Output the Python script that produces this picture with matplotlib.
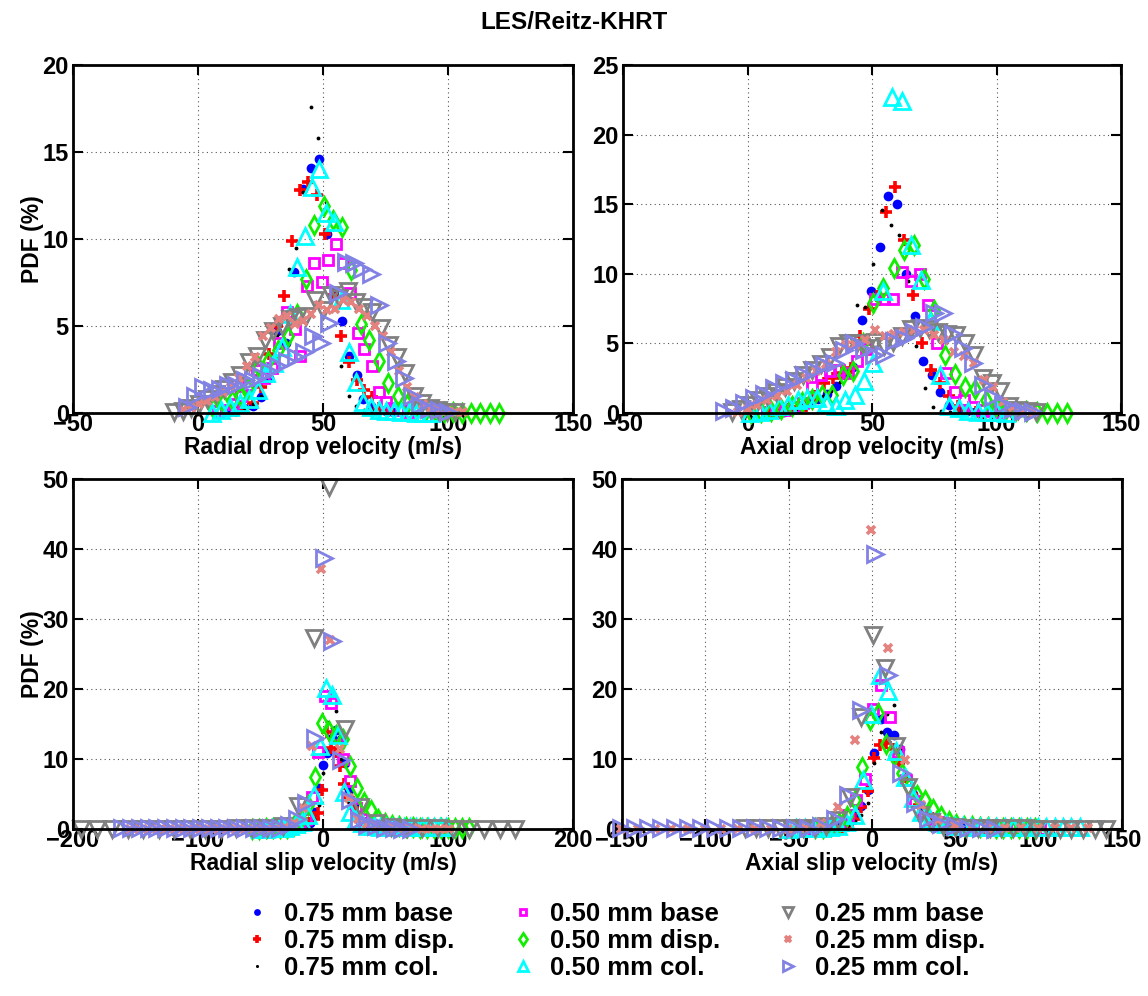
import numpy as np
import matplotlib
matplotlib.use("Agg")
import matplotlib.pyplot as plt

plt.rcParams['font.family'] = ['Liberation Sans', 'DejaVu Sans']
plt.rcParams['font.weight'] = 'bold'

# ---------------- data ----------------
# panel 1: radial drop velocity
p1_b75_x = [12, 15, 18.5, 22, 25, 28.5, 31.5, 35, 38.5, 42, 45.2, 48.4, 51.5, 54.5, 57.5, 60.5, 63.5, 66, 69, 72, 75, 78]
p1_b75_y = [0.1, 0.2, 0.3, 0.4, 0.9, 2.0, 4.7, 4.0, 8.1, 12.9, 14.1, 14.6, 10.3, 7.0, 5.3, 3.3, 2.2, 0.8, 0.4, 0.2, 0.1, 0.05]
p1_d75_x = [15, 18.5, 22, 25, 28.4, 31.5, 34.5, 37.7, 40.8, 43.9, 47.5, 50.8, 54, 57.2, 60.3, 63.5, 66.5, 69.5, 72.5, 76]
p1_d75_y = [0.1, 0.3, 0.6, 1.5, 3.4, 5.0, 6.7, 9.9, 12.8, 13.3, 12.5, 10.3, 6.8, 4.4, 2.95, 1.9, 1.3, 0.9, 0.3, 0.1]
p1_c75_x = [15, 18.5, 22, 25, 28.4, 31.5, 36.3, 39.1, 42, 45.1, 48.1, 51.1, 54.4, 57.2, 60.3, 63.2, 66.5, 69.5]
p1_c75_y = [0.1, 0.3, 0.5, 1.0, 2.5, 4.5, 8.3, 9.5, 12.7, 17.6, 15.8, 12.1, 7.2, 2.7, 1.0, 0.4, 0.2, 0.1]
p1_b50_x = [8, 11, 14, 17, 20, 23.5, 26.5, 29.5, 32.5, 35.5, 38.8, 40.8, 43.5, 46.5, 49.7, 52, 55.2, 57.9, 60.8, 63.9, 66.5, 69.5, 72.4, 75.2, 78, 81, 84]
p1_b50_y = [0.1, 0.2, 0.5, 1.0, 1.6, 2.5, 2.0, 2.6, 4.0, 5.8, 4.8, 3.3, 7.3, 8.6, 7.5, 8.8, 9.7, 8.6, 6.9, 4.6, 3.7, 2.7, 1.2, 0.65, 0.3, 0.15, 0.05]
p1_d50_x = [6.1, 9.9, 13.5, 16.8, 20.1, 24, 28, 31.9, 35.9, 39.5, 43.1, 46.5, 50.5, 54, 57.7, 61.2, 65.2, 68.5, 72.4, 76.1,
            80.1, 83.7, 87.4, 91, 94.6, 98.2, 101.8, 105.4, 109, 112.9, 116.8, 120.5]
p1_d50_y = [0.3, 0.55, 0.75, 1.0, 1.4, 2.7, 3.0, 3.6, 4.4, 5.7, 7.7, 10.8, 11.9, 11.1, 10.7, 8.2, 5.1, 4.2, 3.0, 1.7,
            1.0, 0.5, 0.3, 0.2, 0.1, 0.05, 0.05, 0.02, 0.02, 0.02, 0.02, 0.02]
p1_c50_x = [5.5, 9.2, 12.9, 16.6, 20.3, 24, 27.2, 30.4, 33.5, 36.6, 39.7, 42.8, 45.5, 48.4, 51.1, 54.2, 57.2, 60.2, 63.2, 66.1,
            69.2, 72.2, 75.2, 78.2, 81.2, 84.2, 87.2, 90.2, 93.2]
p1_c50_y = [0.0, 0.15, 0.35, 0.55, 0.8, 1.3, 2.3, 2.9, 3.8, 5.7, 8.4, 10.2, 13.0, 14.0, 11.5, 11.0, 6.5, 3.5, 1.8, 0.65,
            0.35, 0.2, 0.1, 0.1, 0.05, 0.05, 0.02, 0.02, 0.01]
p1_b25_x = [-9.5, -6.2, -2.9, 0.4, 3.7, 7, 10.3, 13.6, 16.9, 20.2, 23.5, 26.8, 30.1, 33.4, 36.7, 40, 43.3, 46.6, 49.9, 53.2,
            56.5, 59.8, 63.1, 66.4, 69.7, 73, 76.3, 79.6, 82.9, 86.2, 89.5, 92.8, 96.1, 99.4, 102.7]
p1_b25_y = [0.05, 0.1, 0.3, 0.5, 0.8, 1.1, 1.4, 1.8, 2.2, 2.95, 3.3, 4.2, 4.7, 5.0, 5.4, 5.5, 5.6, 6.5, 5.9, 6.8,
            6.6, 7.0, 6.4, 6.1, 5.8, 4.9, 3.9, 3.2, 2.3, 1.0, 0.55, 0.27, 0.17, 0.08, 0.03]
p1_d25_x = [-6, -2.8, 0.4, 3.6, 6.8, 10, 13.2, 16.4, 19.6, 22.8, 26, 29.2, 32.4, 35.6, 38.8, 42, 45.2, 48.4, 51.6, 54.8,
            58, 61.2, 64.4, 67.6, 70.8, 74, 77.2, 80.4, 83.6, 86.8, 90, 93.2, 96.4, 99.6, 102.8, 106]
p1_d25_y = [0.2, 0.3, 0.5, 0.7, 0.9, 1.2, 1.5, 2.0, 2.7, 3.2, 4.4, 4.9, 5.4, 5.6, 5.1, 5.3, 5.7, 6.2, 5.9, 6.0,
            6.5, 6.4, 6.0, 5.6, 5.0, 4.4, 3.5, 2.4, 1.5, 0.9, 0.5, 0.3, 0.2, 0.1, 0.05, 0.03]
p1_c25_x = [-4.5, -1.2, 2.1, 5.4, 8.7, 12, 15.3, 18.6, 21.9, 25.2, 28.5, 31.8, 35.5, 39, 42.5, 46, 49.3, 52.5, 55.8, 59,
            62.3, 65.6, 69, 72.4, 75.7, 79, 82.3, 85.6, 88.9, 92.5, 96.2, 99.8]
p1_c25_y = [0.35, 0.95, 1.5, 1.3, 1.4, 1.6, 1.6, 1.9, 1.9, 2.1, 2.4, 2.7, 3.0, 3.2, 3.5, 4.4, 4.0, 5.2, 6.9, 8.7,
            8.6, 8.3, 8.0, 6.2, 4.0, 3.0, 2.0, 0.95, 0.45, 0.25, 0.15, 0.08]

# panel 2: axial drop velocity
p2_b75_x = [11, 14.5, 18, 21.5, 25, 28.5, 32, 35.5, 39, 42.5, 46, 49.6, 53.1, 56.5, 60.1, 63.6, 67.1, 70.5, 74, 77.5, 81, 84.5, 88, 91.5]
p2_b75_y = [0.05, 0.1, 0.2, 0.4, 0.7, 1.0, 1.4, 1.96, 2.7, 3.3, 6.7, 8.8, 11.9, 15.6, 15.0, 10.0, 7.0, 3.7, 2.7, 1.5, 0.6, 0.3, 0.15, 0.05]
p2_d75_x = [9, 12.6, 16.2, 19.8, 23.4, 27, 30.6, 34.2, 37.8, 41.4, 45, 48.6, 52.2, 55.8, 59.4, 63, 66.5, 70.2, 73.8, 77.4, 81, 84.6, 88.2, 91.8]
p2_d75_y = [0.05, 0.15, 0.3, 0.4, 0.5, 1.2, 2.15, 2.5, 2.9, 3.2, 5.5, 7.5, 8.4, 14.45, 16.2, 12.4, 8.47, 5.0, 3.1, 2.13, 1.2, 0.5, 0.2, 0.05]
p2_c75_x = [16.6, 20, 23.4, 26.8, 30.2, 33.6, 37, 40.4, 43.8, 47.2, 50.6, 54, 57.5, 60.9, 64.3, 67.7, 71.1, 74.5, 77.9, 81.3]
p2_c75_y = [0.1, 0.2, 0.35, 0.7, 1.2, 1.6, 2.2, 3.0, 7.76, 7.6, 10.7, 14.6, 13.5, 12.8, 9.5, 4.8, 1.8, 0.45, 0.15, 0.05]
p2_b50_x = [7.9, 11.5, 15.1, 18.7, 22.3, 25.9, 29.5, 33.1, 36.7, 40.3, 43.9, 47.5, 51.1, 54.8, 58.5, 62.2, 65.6, 69.1, 72.6, 76.2,
            79.8, 83.4, 87, 90.6, 94.2, 97.8, 101.4]
p2_b50_y = [0.05, 0.1, 0.2, 0.4, 0.7, 1.9, 2.75, 3.0, 3.1, 2.9, 3.7, 4.6, 8.2, 8.2, 8.2, 10.1, 9.5, 10.0, 7.75, 5.0,
            2.85, 1.5, 0.93, 0.4, 0.25, 0.12, 0.05]
p2_d50_x = [1.3, 5.4, 9.5, 13.6, 17.7, 21.8, 25.9, 30, 34.1, 38.2, 42.3, 46.4, 50.5, 54.6, 58.7, 62.8, 66.9, 71, 75.1, 79.2,
            83.3, 87.4, 91.5, 95.6, 99.7, 103.8, 107.9, 112, 116.1, 120.2, 124.3, 128.4]
p2_d50_y = [0.0, 0.05, 0.15, 0.3, 0.5, 0.8, 1.0, 1.3, 1.3, 2.75, 3.0, 5.0, 7.9, 9.0, 10.4, 11.7, 12.1, 9.6, 7.4, 4.2,
            2.8, 1.85, 1.7, 0.95, 0.5, 0.3, 0.2, 0.15, 0.1, 0.03, 0.02, 0.02]
p2_c50_x = [1.2, 5, 8.8, 12.6, 16.4, 20.2, 24, 27.8, 31.6, 35.4, 39.2, 43, 46.8, 50.6, 54.4, 58.2, 62, 65.8, 69.6, 73.4,
            77.2, 81, 84.8, 88.6, 92.4, 96.2, 100, 103.8]
p2_c50_y = [0.0, 0.1, 0.24, 0.5, 0.6, 0.95, 1.07, 1.07, 0.7, 0.5, 0.95, 1.3, 2.3, 3.6, 8.8, 22.7, 22.4, 12.1, 9.55, 6.6,
            2.7, 0.5, 0.35, 0.15, 0.1, 0.08, 0.05, 0.03]
p2_b25_x = [-6.4, -2.8, 0.8, 4.4, 8, 11.6, 15.2, 18.8, 22.4, 26, 29.6, 33.2, 36.8, 40.4, 44, 47.6, 51.2, 54.8, 58.4, 62,
            65.6, 69.2, 72.8, 76.4, 80, 83.6, 87.2, 90.8, 94.4, 98, 101.6, 105.2, 108.8, 112.4, 116]
p2_b25_y = [0.1, 0.3, 0.6, 0.9, 1.2, 1.5, 1.9, 2.3, 2.7, 3.1, 3.5, 4.0, 4.8, 5.0, 5.0, 4.65, 5.1, 4.8, 5.1, 5.5,
            6.0, 6.1, 6.0, 5.8, 5.7, 5.6, 5.0, 4.2, 2.5, 2.15, 1.55, 0.48, 0.24, 0.12, 0.05]
p2_d25_x = [-3.9, 0, 3.9, 7.9, 11.8, 15.8, 19.7, 23.6, 27.6, 31.5, 35.5, 39.4, 43.3, 47.2, 51.1, 55.1, 59, 63, 66.9, 70.9,
            74.9, 78.9, 82.9, 86.8, 90.8, 94.8, 98.7, 102.7, 106.6, 110.6, 114.5]
p2_d25_y = [0.1, 0.3, 0.6, 0.9, 1.2, 1.6, 2.0, 2.5, 3.0, 3.5, 4.4, 4.9, 4.9, 5.25, 5.97, 5.5, 5.7, 5.85, 5.97, 5.97,
            5.6, 5.25, 4.4, 4.06, 3.6, 2.4, 1.9, 0.8, 0.4, 0.2, 0.1]
p2_c25_x = [-9.3, -5.3, -1.3, 2.7, 6.7, 10.7, 14.7, 18.7, 22.7, 26.7, 30.7, 34.7, 38.7, 42.7, 46.7, 50.7, 54.7, 58.7, 62.7, 66.7,
            70.7, 74.7, 78.7, 82.7, 86.7, 90.7, 94.7, 98.7, 102.7, 106.7, 110.7, 114.7]
p2_c25_y = [0.12, 0.36, 0.72, 1.07, 1.4, 1.8, 2.15, 2.4, 2.75, 3.1, 3.46, 3.6, 4.5, 5.0, 4.5, 4.2, 4.2, 5.2, 5.4, 5.8,
            6.2, 7.2, 7.2, 5.7, 4.66, 3.6, 2.0, 1.17, 0.6, 0.3, 0.15, 0.08]

# panel 3: radial slip velocity
p3_b75_x = [-35, -31.5, -28, -24.5, -21, -17.5, -14, -10.5, -7, -3.5, 0, 3.5, 7, 10.5, 14, 17.5, 21, 24.5, 28, 31.5,
            35, 38.5, 42, 45.5, 49]
p3_b75_y = [0.05, 0.1, 0.1, 0.15, 0.2, 0.3, 0.5, 0.9, 2.5, 5.8, 9.2, 10.9, 13.0, 14.2, 12.8, 9.5, 5.6, 3.5, 2.0, 1.2,
            0.7, 0.4, 0.3, 0.2, 0.1]
p3_d75_x = [-35.5, -32, -28.5, -25, -21.5, -18, -14.5, -11, -7.5, -4, -0.5, 3, 6.5, 10, 13.5, 17, 20.5, 24, 27.5, 31,
            34.5, 38, 41.5, 45, 48.5]
p3_d75_y = [0.05, 0.1, 0.1, 0.15, 0.2, 0.3, 0.5, 0.8, 1.5, 2.3, 5.6, 13.9, 11.6, 11.0, 9.0, 6.5, 4.5, 3.0, 2.0, 1.3,
            0.8, 0.5, 0.3, 0.2, 0.1]
p3_c75_x = [-35, -31.5, -28, -24.5, -21, -17.5, -14, -10.5, -7, -3.5, 0, 3.5, 7, 10.5, 14, 17.5, 21, 24.5, 28, 31.5,
            35, 38.5, 42, 45.5, 49]
p3_c75_y = [0.05, 0.1, 0.1, 0.15, 0.2, 0.3, 0.5, 0.9, 1.5, 3.5, 8.0, 15.3, 14.5, 16.9, 10.0, 6.5, 3.8, 2.3, 1.5, 1.0,
            0.6, 0.4, 0.3, 0.2, 0.1]
p3_b50_x = [-43.8, -38.8, -33.8, -28.8, -23.8, -18.8, -13.8, -8.8, -3.8, 1.2, 6.2, 11.2, 16.2, 21.2, 26.2, 31.2, 36.2, 41.2,
            46.2, 51.2, 56.2, 61.2, 66.2, 71.2, 76.2, 81.2]
p3_b50_y = [0.05, 0.1, 0.15, 0.2, 0.4, 0.8, 1.5, 4.6, 11.0, 19.0, 18.0, 13.5, 10.0, 6.8, 3.0, 1.5, 0.8, 0.5,
            0.3, 0.2, 0.15, 0.1, 0.1, 0.05, 0.05, 0.05]
p3_d50_x = [-57.1, -51.5, -45.9, -40.3, -34.7, -29.1, -23.5, -17.9, -12.3, -6.7, -1.1, 4.5, 10.1, 15.7, 21.3, 26.9,
            32.5, 38.1, 43.7, 49.3, 54.9, 60.5, 66.1, 71.7, 77.3, 82.9, 88.5, 94.1, 99.7, 105.3, 110.9, 116.5]
p3_d50_y = [0.05, 0.05, 0.1, 0.1, 0.15, 0.2, 0.6, 1.5, 3.5, 7.4, 15.2, 14.0, 13.5, 12.8, 9.0, 5.8,
            3.9, 2.7, 1.5, 0.9, 0.6, 0.4, 0.3, 0.25, 0.2, 0.2, 0.15, 0.15, 0.1, 0.1, 0.1, 0.1]
p3_c50_x = [-50.2, -45.4, -40.6, -35.8, -31, -26.2, -21.4, -16.6, -11.8, -7, -2.2, 2.6, 7.4, 12.2, 17, 21.8,
            26.6, 31.4, 36.2, 41, 45.8, 50.6, 55.4, 60.2, 65, 69.8, 74.6, 79.4, 84.2, 89, 93.8, 98.6]
p3_c50_y = [0.05, 0.05, 0.1, 0.1, 0.2, 0.4, 0.7, 1.0, 2.0, 4.9, 11.8, 20.1, 19.1, 13.4, 5.3, 2.5,
            1.5, 0.8, 0.5, 0.4, 0.3, 0.3, 0.3, 0.3, 0.3, 0.3, 0.3, 0.3, 0.3, 0.3, 0.3, 0.3]
p3_b25_x = [-193.4, -181, -168.6, -156.2, -143.8, -131.4, -119, -106.6, -94.2, -81.8, -69.4, -57, -44.6, -32.2, -19.8,
            -7.4, 5, 17.4, 29.8, 42.2, 54.6, 67, 79.4, 91.8, 104.2, 116.6, 129, 141.4, 153.8]
p3_b25_y = [0.05, 0.05, 0.05, 0.05, 0.05, 0.05, 0.05, 0.05, 0.05, 0.05, 0.1, 0.1, 0.2, 0.5, 3.3,
            27.3, 48.8, 14.3, 3.2, 0.8, 0.3, 0.2, 0.1, 0.1, 0.05, 0.05, 0.05, 0.05, 0.05]
p3_d25_x = [-154.7, -147.4, -140.1, -132.8, -125.5, -118.2, -110.9, -103.6, -96.3, -89, -81.7, -74.4, -67.1, -59.8,
            -52.5, -45.2, -37.9, -30.6, -23.3, -16, -8.7, -1.4, 5.9, 13.2, 20.5, 27.8, 35.1, 42.4, 49.7, 57, 64.3,
            71.6, 78.9, 86.2, 93.5, 100.8]
p3_d25_y = [0.05, 0.05, 0.05, 0.05, 0.05, 0.05, 0.05, 0.05, 0.05, 0.05, 0.05, 0.05, 0.05, 0.05,
            0.05, 0.05, 0.15, 0.3, 0.8, 3.0, 11.8, 37.1, 27.0, 11.4, 4.5, 1.5, 0.7, 0.4, 0.3, 0.2, 0.15,
            0.1, 0.05, 0.05, 0.05, 0.05]
p3_c25_x = [-160.5, -153.5, -146.5, -139.5, -132.5, -125.5, -118.5, -111.5, -104.5, -97.5, -90.5, -83.5, -76.5,
            -69.5, -62.5, -55.5, -48.5, -41.5, -34.5, -27.5, -20.5, -13.5, -6.5, 0.5, 7.5, 14.5, 21.5, 28.5, 35.5,
            42.5, 49.5, 56.5, 63.5, 70.5]
p3_c25_y = [0.1, 0.1, 0.1, 0.1, 0.1, 0.1, 0.1, 0.1, 0.1, 0.1, 0.1, 0.1, 0.1,
            0.1, 0.1, 0.1, 0.1, 0.1, 0.2, 0.6, 1.5, 3.7, 13.0, 38.7, 26.9, 9.9, 4.1, 1.3, 0.6,
            0.4, 0.2, 0.1, 0.05, 0.03]

# panel 4: axial slip velocity
p4_b75_x = [-25.8, -21.9, -18, -14.2, -10.3, -6.4, -2.5, 1.3, 5.1, 9, 12.9, 16.8, 20.7, 24.6, 28.5, 32.4, 36.3, 40.2,
            44.1, 48, 51.9, 55.8]
p4_b75_y = [0.1, 0.3, 0.6, 1.0, 1.8, 3.3, 5.6, 10.8, 15.7, 13.8, 13.4, 11.4, 7.5, 5.0, 3.5, 2.5, 1.7, 1.1,
            0.7, 0.5, 0.3, 0.2]
p4_d75_x = [-25.9, -22, -18.1, -14.2, -10.3, -6.4, -2.5, 1.3, 4.6, 8.5, 12.4, 16.3, 20.2, 24.1, 28, 31.9, 35.8, 39.7,
            43.6, 47.5, 51.4]
p4_d75_y = [0.05, 0.1, 0.3, 0.5, 1.5, 3.2, 5.5, 10.1, 12.0, 12.3, 11.5, 9.5, 7.5, 5.0, 3.5, 2.5, 1.6, 1.0,
            0.6, 0.4, 0.2]
p4_c75_x = [-25.8, -21.9, -18, -14.2, -10.3, -6.4, -2.5, 1.3, 5.1, 9, 12.9, 16.8, 20.7, 24.6, 28.5, 32.4, 36.3, 40.2, 44.1]
p4_c75_y = [0.05, 0.1, 0.3, 0.6, 1.2, 2.0, 3.7, 9.5, 13.8, 16.5, 17.7, 11.5, 8.0, 5.5, 3.8, 2.5, 1.5, 0.8, 0.4]
p4_b50_x = [-39.4, -34.4, -29.4, -24.4, -19.4, -14.4, -9.4, -4.4, 0.6, 5.6, 10.6, 15.6, 20.6, 25.6, 30.6, 35.6, 40.6,
            45.6, 50.6, 55.6, 60.6, 65.6, 70.6, 75.6, 80.6, 85.6, 90.6, 95.6, 100.6]
p4_b50_y = [0.05, 0.1, 0.2, 0.4, 0.8, 2.0, 4.2, 7.2, 17.2, 20.6, 16.0, 11.0, 7.0, 4.0, 2.5, 1.5, 1.0,
            0.6, 0.4, 0.3, 0.2, 0.2, 0.15, 0.1, 0.1, 0.1, 0.05, 0.05, 0.05]
p4_d50_x = [-34, -29.3, -24.6, -19.9, -15.2, -10.5, -5.8, -1.1, 3.6, 8.3, 13, 17.7, 22.4, 27.1, 31.8, 36.5, 41.2,
            45.9, 50.6, 55.3, 60, 64.7, 69.4, 74.1, 78.8, 83.5, 88.2, 92.9, 97.6]
p4_d50_y = [0.1, 0.2, 0.4, 0.9, 1.9, 4.2, 8.9, 15.6, 16.6, 12.1, 10.4, 8.0, 6.0, 4.8, 4.1, 2.8, 1.8,
            1.1, 0.7, 0.5, 0.4, 0.3, 0.3, 0.2, 0.2, 0.2, 0.15, 0.1, 0.1]
p4_c50_x = [-50.4, -45.4, -40.4, -35.4, -30.4, -25.4, -20.4, -15.4, -10.4, -5.4, -0.4, 4.6, 9.6, 14.6, 19.6, 24.6,
            29.6, 34.6, 39.6, 44.6, 49.6, 54.6, 59.6, 64.6, 69.6, 74.6, 79.6, 84.6, 89.6, 94.6, 99.6, 104.6,
            109.6, 114.6, 119.6, 124.6]
p4_c50_y = [0.05, 0.1, 0.1, 0.15, 0.2, 0.3, 0.5, 1.0, 2.0, 7.0, 16.5, 22.0, 19.7, 11.1, 7.5, 4.4,
            2.5, 1.5, 1.0, 0.7, 0.5, 0.4, 0.35, 0.3, 0.3, 0.3, 0.3, 0.3, 0.3, 0.3, 0.3, 0.3,
            0.3, 0.3, 0.3, 0.3]
p4_b25_x = [-76.4, -69.4, -62.4, -55.4, -48.4, -41.4, -34.4, -27.4, -20.4, -13.4, -6.4, 0.6, 7.6, 14.6, 21.6, 28.6,
            35.6, 42.6, 49.6, 56.6, 63.6, 70.6, 77.6, 84.6, 91.6, 98.6, 105.6, 112.6, 119.6, 126.6, 133.6, 140.6]
p4_b25_y = [0.1, 0.1, 0.1, 0.15, 0.15, 0.2, 0.2, 0.5, 1.3, 4.6, 16.0, 27.7, 23.0, 11.8, 6.0, 2.0,
            1.0, 0.5, 0.3, 0.2, 0.15, 0.1, 0.1, 0.1, 0.1, 0.05, 0.05, 0.05, 0.05, 0.05, 0.05, 0.05]
p4_d25_x = [-150.4, -140.4, -130.4, -120.4, -110.4, -100.4, -90.4, -80.4, -70.4, -60.4, -50.4, -40.4, -30.4, -20.4,
            -10.4, -0.4, 9.6, 19.6, 29.6, 39.6, 49.6, 59.6, 69.6, 79.6, 89.6, 99.6, 109.6, 119.6, 129.6]
p4_d25_y = [0.05, 0.05, 0.05, 0.05, 0.05, 0.05, 0.05, 0.05, 0.05, 0.05, 0.05, 0.2, 0.8, 3.1,
            12.7, 42.7, 25.8, 9.9, 3.4, 1.3, 0.6, 0.3, 0.2, 0.1, 0.1, 0.1, 0.1, 0.1, 0.1]
p4_c25_x = [-150.4, -142.4, -134.4, -126.4, -118.4, -110.4, -102.4, -94.4, -86.4, -78.4, -70.4, -62.4, -54.4, -46.4,
            -38.4, -30.4, -22.4, -14.4, -6.4, 1.6, 9.6, 17.6, 25.6, 33.6, 41.6, 49.6, 57.6, 65.6, 73.6]
p4_c25_y = [0.1, 0.1, 0.1, 0.1, 0.1, 0.1, 0.1, 0.1, 0.1, 0.1, 0.1, 0.1, 0.1, 0.1,
            0.1, 0.4, 1.5, 4.9, 17.0, 39.3, 22.0, 8.0, 3.7, 1.5, 0.7, 0.4, 0.2, 0.1, 0.05]

labels = ['0.75 mm base', '0.75 mm disp.', '0.75 mm col.',
          '0.50 mm base', '0.50 mm disp.', '0.50 mm col.',
          '0.25 mm base', '0.25 mm disp.', '0.25 mm col.']

panels = [
    ('Radial drop velocity (m/s)', (-50, 150), (0, 20), np.arange(-50, 151, 50), np.arange(0, 21, 5),
     [(p1_b75_x, p1_b75_y), (p1_d75_x, p1_d75_y), (p1_c75_x, p1_c75_y),
      (p1_b50_x, p1_b50_y), (p1_d50_x, p1_d50_y), (p1_c50_x, p1_c50_y),
      (p1_b25_x, p1_b25_y), (p1_d25_x, p1_d25_y), (p1_c25_x, p1_c25_y)]),
    ('Axial drop velocity (m/s)', (-50, 150), (0, 25), np.arange(-50, 151, 50), np.arange(0, 26, 5),
     [(p2_b75_x, p2_b75_y), (p2_d75_x, p2_d75_y), (p2_c75_x, p2_c75_y),
      (p2_b50_x, p2_b50_y), (p2_d50_x, p2_d50_y), (p2_c50_x, p2_c50_y),
      (p2_b25_x, p2_b25_y), (p2_d25_x, p2_d25_y), (p2_c25_x, p2_c25_y)]),
    ('Radial slip velocity (m/s)', (-200, 200), (0, 50), np.arange(-200, 201, 100), np.arange(0, 51, 10),
     [(p3_b75_x, p3_b75_y), (p3_d75_x, p3_d75_y), (p3_c75_x, p3_c75_y),
      (p3_b50_x, p3_b50_y), (p3_d50_x, p3_d50_y), (p3_c50_x, p3_c50_y),
      (p3_b25_x, p3_b25_y), (p3_d25_x, p3_d25_y), (p3_c25_x, p3_c25_y)]),
    ('Axial slip velocity (m/s)', (-150, 150), (0, 50), np.arange(-150, 151, 50), np.arange(0, 51, 10),
     [(p4_b75_x, p4_b75_y), (p4_d75_x, p4_d75_y), (p4_c75_x, p4_c75_y),
      (p4_b50_x, p4_b50_y), (p4_d50_x, p4_d50_y), (p4_c50_x, p4_c50_y),
      (p4_b25_x, p4_b25_y), (p4_d25_x, p4_d25_y), (p4_c25_x, p4_c25_y)]),
]

# marker styles (matlab-ish)
styles = [
    dict(marker='o', ms=7, color='#0000ff', mfc='#0000ff', mew=0),
    dict(marker='+', ms=8, color='#ff0000', mew=2.6),
    dict(marker='.', ms=3.5, color='black'),
    dict(marker='s', ms=7, color='#ff00ff', mfc='none', mew=2),
    dict(marker='d', ms=9, color='#11ee00', mfc='none', mew=2),
    dict(marker='^', ms=11, color='#00ffff', mfc='none', mew=2),
    dict(marker='v', ms=11, color='#808080', mfc='none', mew=2),
    dict(marker='x', ms=6, color='#e3827e', mew=2.6),
    dict(marker='>', ms=11, color='#8282e4', mfc='none', mew=2),
]

fig = plt.figure(figsize=(11.48, 9.96), dpi=100)
W, H = 1148.0, 996.0
boxes = [(73, 65, 573, 413), (623, 65, 1121, 413), (73, 479, 573, 829), (622, 479, 1122, 829)]

axes = []
for k, (xlabel, xlim, ylim, xt, yt, series) in enumerate(panels):
    l, t, r, b = boxes[k]
    ax = fig.add_axes([l / W, 1 - b / H, (r - l) / W, (b - t) / H])
    for (xs, ys), st, lab in zip(series, styles, labels):
        ax.plot(xs, ys, linestyle='none', label=lab, clip_on=False, **st)
    ax.set_xlim(*xlim)
    ax.set_ylim(*ylim)
    ax.set_xticks(xt)
    ax.set_yticks(yt)
    ax.grid(True, linestyle=(0, (1, 3)), color='#555555', linewidth=0.8)
    ax.tick_params(direction='in', length=7, width=1.5, top=True, right=True, labelsize=17)
    ax.tick_params(axis='x', pad=0)
    ax.tick_params(axis='y', pad=3)
    for lbl in ax.get_xticklabels() + ax.get_yticklabels():
        lbl.set_fontweight('bold')
    for sp in ax.spines.values():
        sp.set_linewidth(2)
    ax.set_xlabel(xlabel, fontsize=16.5, fontweight='bold', labelpad=0)
    if k in (0, 2):
        ax.set_ylabel('PDF (%)', fontsize=16.5, fontweight='bold', labelpad=-1)
    axes.append(ax)

fig.suptitle('LES/Reitz-KHRT', fontsize=17.5, fontweight='bold', y=0.989)

handles, labs = axes[0].get_legend_handles_labels()
fig.legend(handles, labs, loc='upper center', bbox_to_anchor=(0.5355, 0.118), ncol=3,
           frameon=False, markerscale=0.7, handlelength=1.0,
           handletextpad=0.55, columnspacing=2.17, labelspacing=0.12,
           prop={'weight': 'bold', 'size': 18.5})

fig.savefig('out.png', dpi=100)
